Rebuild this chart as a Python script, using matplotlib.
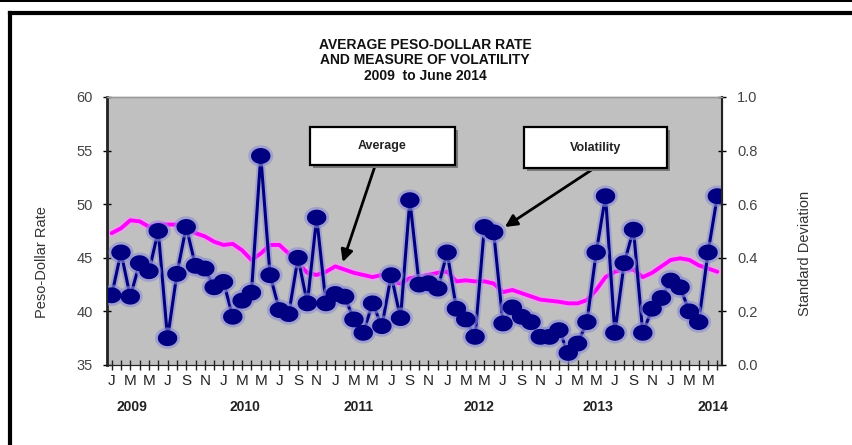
import numpy as np
import matplotlib
matplotlib.use("Agg")
import matplotlib.pyplot as plt
import matplotlib.patheffects as pe
from matplotlib.path import Path
from matplotlib.patches import Rectangle
from matplotlib.lines import Line2D

W, H = 852, 445

years = [2009, 2010, 2011, 2012, 2013, 2014]
month_letters = ["J", "F", "M", "A", "M", "J", "J", "A", "S", "O", "N", "D"]

# monthly average PHP per USD, Jan 2009 - Jun 2014
avg_rate = [
    47.3, 47.75, 48.5, 48.4, 47.9, 48.1, 48.1, 48.1, 47.8, 47.3, 47.0, 46.5,
    46.2, 46.3, 45.7, 44.8, 45.4, 46.2, 46.2, 45.4, 44.5, 43.6, 43.4, 43.7,
    44.2, 43.9, 43.6, 43.4, 43.2, 43.4, 42.8, 42.6, 43.1, 43.2, 43.4, 43.6,
    43.7, 42.8, 42.9, 42.8, 42.8, 42.6, 41.8, 42.0, 41.7, 41.4, 41.1, 41.0,
    40.9, 40.75, 40.75, 41.05, 42.0, 43.2, 43.7, 43.9, 43.9, 43.2, 43.6, 44.2,
    44.8, 44.95, 44.8, 44.3, 44.0, 43.7,
]

# monthly standard deviation of the daily rate
volatility = [
    0.26, 0.42, 0.255, 0.38, 0.35, 0.50, 0.10, 0.34, 0.515, 0.37, 0.36, 0.29,
    0.31, 0.18, 0.24, 0.27, 0.78, 0.335, 0.205, 0.19, 0.40, 0.23, 0.55, 0.23,
    0.265, 0.255, 0.17, 0.12, 0.23, 0.145, 0.335, 0.175, 0.615, 0.30, 0.305, 0.285,
    0.42, 0.21, 0.17, 0.105, 0.515, 0.495, 0.155, 0.215, 0.18, 0.16, 0.105, 0.105,
    0.13, 0.045, 0.08, 0.16, 0.42, 0.63, 0.12, 0.38, 0.505, 0.12, 0.21, 0.25,
    0.315, 0.29, 0.20, 0.16, 0.42, 0.63,
]

# where the year captions sit under the month letters
year_pos = [2.2, 14.3, 26.5, 39.4, 52.2, 64.5]


def fx(px):
    return px / W


def fy(py):
    return 1 - py / H


plt.rcParams["font.family"] = ["Liberation Sans", "DejaVu Sans"]

fig = plt.figure(figsize=(W / 100, H / 100), dpi=100)
fig.patch.set_facecolor("white")

ax = fig.add_axes([fx(107), fy(365), fx(722) - fx(107), fy(97) - fy(365)])
ax.set_facecolor("#c0c0c0")

x = np.arange(len(avg_rate))

# average rate, left axis
ax.plot(x, avg_rate, color="#ff00ff", lw=2.8, solid_capstyle="round",
        path_effects=[pe.Stroke(linewidth=6, foreground="#f0a0f0", alpha=0.7), pe.Normal()])
ax.set_xlim(-0.5, len(avg_rate) - 0.5)
ax.set_ylim(35, 60)
ax.set_yticks([35, 40, 45, 50, 55, 60])

# volatility, right axis
ax2 = ax.twinx()
t = np.linspace(0, 2 * np.pi, 40)
ellipse = Path(np.column_stack([np.cos(t), 0.8 * np.sin(t)]), closed=True)
ax2.plot(x, volatility, color="#000080", lw=2.2, marker=ellipse, ms=13,
         mfc="#000080", mec="#000080",
         path_effects=[pe.Stroke(linewidth=5, foreground="#8c8cd8", alpha=0.6), pe.Normal()])
ax2.set_ylim(0, 1.0)
ax2.set_yticks(np.arange(0, 1.01, 0.2))
ax2.set_yticklabels([f"{v:.1f}" for v in np.arange(0, 1.01, 0.2)])

# month ticks, every other month labelled
ax.set_xticks(x)
ax.set_xticklabels([month_letters[i % 12] if i % 2 == 0 else "" for i in x])
ax.tick_params(axis="x", direction="inout", length=7, width=1, pad=3,
               labelsize=11, colors="#222222")
ax.tick_params(axis="y", direction="inout", length=6, width=1, pad=7,
               labelsize=10.5, labelcolor="#444444")
ax2.tick_params(axis="y", direction="inout", length=6, width=1, pad=8,
                labelsize=10.5, labelcolor="#444444")

for a in (ax, ax2):
    a.spines["top"].set_color("#9a9a9a")
    a.spines["top"].set_linewidth(1)
    a.spines["bottom"].set_color("#222222")
    a.spines["left"].set_color("#222222")
    a.spines["right"].set_color("#222222")
ax.spines["left"].set_linewidth(2)
ax2.spines["right"].set_linewidth(1.5)

xt = ax.get_xaxis_transform()
for yr, pos in zip(years, year_pos):
    ax.text(pos, -0.157, str(yr), transform=xt, ha="center", va="center",
            fontsize=10, fontweight="bold", color="#222222")

fig.text(fx(42), fy(262), "Peso-Dollar Rate", rotation=90, ha="center", va="center",
         fontsize=10.5, color="#333333", fontstretch="condensed")
fig.text(fx(805), fy(253), "Standard Deviation", rotation=90, ha="center", va="center",
         fontsize=10.5, color="#333333", fontstretch="condensed")

# title
for txt, py in [("AVERAGE PESO-DOLLAR RATE", 45), ("AND MEASURE OF VOLATILITY", 60),
                ("2009  to June 2014", 76)]:
    fig.text(fx(425), fy(py), txt, ha="center", va="center", fontsize=10,
             fontweight="bold", color="#111111")

# callout boxes with drop shadow
for label, (x0, y0, x1, y1) in [("Average", (310, 127, 455, 165)),
                                ("Volatility", (524, 127, 667, 168))]:
    fig.add_artist(Rectangle((fx(x0 + 3), fy(y1 + 3)), fx(x1 - x0), fy(y0) - fy(y1),
                             transform=fig.transFigure, facecolor="#7a7a7a",
                             edgecolor="none", zorder=5))
    fig.add_artist(Rectangle((fx(x0), fy(y1)), fx(x1 - x0), fy(y0) - fy(y1),
                             transform=fig.transFigure, facecolor="white",
                             edgecolor="black", lw=1.6, zorder=6))
    fig.text(fx((x0 + x1) / 2), fy((y0 + y1) / 2), label, ha="center", va="center",
             fontsize=9, fontweight="bold", color="#222222", zorder=7)

arrow = dict(arrowstyle="-|>", color="black", lw=2, mutation_scale=18, shrinkA=0, shrinkB=0)
ax.annotate("", xy=(24.8, 44.6), xycoords="data",
            xytext=(fx(375), fy(166)), textcoords="figure fraction",
            arrowprops=arrow, zorder=8, annotation_clip=False)
ax2.annotate("", xy=(42.2, 0.515), xycoords="data",
             xytext=(fx(593), fy(169)), textcoords="figure fraction",
             arrowprops=arrow, zorder=8, annotation_clip=False)

# outer frame
fig.add_artist(Rectangle((0, fy(2)), 1, fy(0) - fy(2), transform=fig.transFigure,
                         facecolor="black", edgecolor="none"))
fig.add_artist(Line2D([fx(10), 1], [fy(13), fy(13)], transform=fig.transFigure,
                      color="black", lw=3))
fig.add_artist(Line2D([fx(10), fx(10)], [fy(13), 0], transform=fig.transFigure,
                      color="black", lw=3))

fig.savefig("out.png", dpi=100)
